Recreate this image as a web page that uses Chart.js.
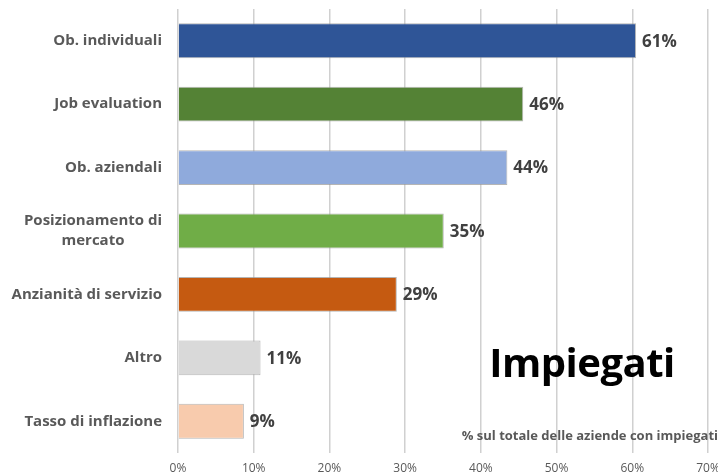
<!DOCTYPE html>
<html><head><meta charset="utf-8">
<script src="https://cdn.jsdelivr.net/npm/chart.js@4/dist/chart.umd.min.js"></script>
<style>
html,body{margin:0;padding:0;background:#fff;}
#wrap{position:relative;width:718px;height:474px;}
#title{position:absolute;left:462px;top:334px;width:240px;text-align:center;font:bold 40px "Open Sans",sans-serif;color:#000;letter-spacing:-0.5px;}
#note{position:absolute;right:0px;top:426px;font:bold 13px "Open Sans",sans-serif;color:#595959;white-space:nowrap;}
</style></head>
<body><div id="wrap"><canvas id="c" width="718" height="474"></canvas>
<div id="title">Impiegati</div>
<div id="note">% sul totale delle aziende con impiegati</div></div>
<script>
const categories = ["Ob. individuali", "Job evaluation", "Ob. aziendali", ["Posizionamento di", "mercato"], "Anzianità di servizio", "Altro", "Tasso di inflazione"];
const values = [60.5, 45.6, 43.5, 35.1, 28.9, 10.9, 8.7];
const barColors = ["#2F5597", "#548235", "#8FAADC", "#70AD47", "#C55A11", "#D9D9D9", "#F8CBAD"];
const xTicks = [0, 10, 20, 30, 40, 50, 60, 70];

const FONT = '"Open Sans", sans-serif';

const labelPlugin = {
  id: 'barLabels',
  afterDatasetsDraw(chart) {
    const ctx = chart.ctx;
    const meta = chart.getDatasetMeta(0);
    ctx.save();
    ctx.font = 'bold 17px ' + FONT;
    ctx.fillStyle = '#404040';
    ctx.textAlign = 'left';
    ctx.textBaseline = 'middle';
    meta.data.forEach((bar, i) => {
      ctx.fillText(Math.round(values[i]) + '%', bar.x + 6, bar.y + 1);
    });
    ctx.restore();
  }
};

// Category labels: right-aligned block, multi-line labels centred within their block
const catLabelPlugin = {
  id: 'catLabels',
  afterDraw(chart) {
    const ctx = chart.ctx;
    const ys = chart.scales.y;
    const right = ys.right - 16;
    const lineH = 20;
    ctx.save();
    ctx.font = 'bold 15px ' + FONT;
    ctx.fillStyle = '#595959';
    ctx.textBaseline = 'middle';
    ctx.textAlign = 'center';
    categories.forEach((lab, i) => {
      const lines = Array.isArray(lab) ? lab : [lab];
      const w = Math.max(...lines.map(l => ctx.measureText(l).width));
      const cx = right - w / 2;
      const y0 = ys.getPixelForValue(i) - (lines.length - 1) * lineH / 2;
      lines.forEach((l, k) => ctx.fillText(l, cx, y0 + k * lineH));
    });
    ctx.restore();
  }
};

new Chart(document.getElementById('c'), {
  type: 'bar',
  data: {
    labels: categories,
    datasets: [{
      data: values,
      backgroundColor: barColors,
      borderColor: 'rgba(150,150,150,0.7)',
      borderWidth: 1,
      categoryPercentage: 1,
      barPercentage: 0.55
    }]
  },
  options: {
    indexAxis: 'y',
    responsive: false,
    animation: false,
    devicePixelRatio: 1,
    layout: { padding: { top: 9, right: 10, left: 0, bottom: 0 } },
    plugins: { legend: { display: false }, tooltip: { enabled: false } },
    scales: {
      x: {
        min: 0, max: 70,
        afterBuildTicks: (s) => { s.ticks = xTicks.map(v => ({ value: v })); },
        ticks: {
          callback: (v) => v + '%',
          color: '#595959',
          font: { family: FONT, size: 12 },
          padding: 8
        },
        grid: { color: '#D0D0D0', lineWidth: 1.5, drawTicks: false },
        border: { display: false },
        afterFit: (s) => { s.height = 21; s.paddingLeft = 0; s.paddingRight = 0; }
      },
      y: {
        ticks: { display: false },
        grid: { display: false, drawTicks: false },
        border: { display: false },
        afterFit: (s) => { s.width = 178; s.paddingTop = 0; s.paddingBottom = 0; }
      }
    }
  },
  plugins: [labelPlugin, catLabelPlugin]
});
</script>
</body></html>
